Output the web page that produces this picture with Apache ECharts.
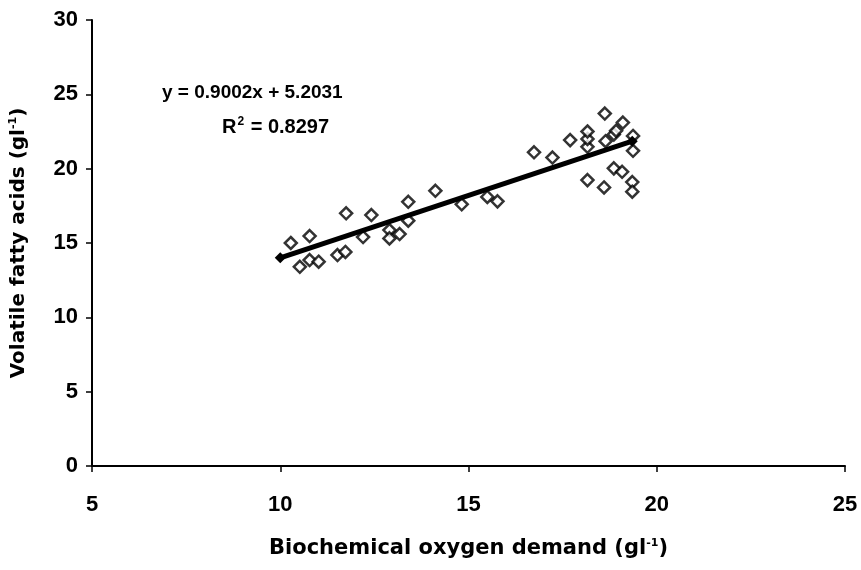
<!DOCTYPE html>
<html>
<head>
<meta charset="utf-8">
<script src="https://cdn.jsdelivr.net/npm/echarts@6/dist/echarts.min.js"></script>
<style>
  html, body { margin: 0; padding: 0; background: #fff; }
  #main { width: 861px; height: 570px; }
</style>
</head>
<body>
<div id="main"></div>
<script>
var myChart = echarts.init(document.getElementById('main'));

// BOD (x) vs VFA (y)
let bod = [10.28, 10.52, 10.78, 10.78, 11.02, 11.52, 11.73, 11.75, 12.2, 12.42, 12.9, 12.9, 13.17, 13.4, 13.4,
    14.12, 14.82, 15.5, 15.77, 16.74, 17.23, 17.7, 18.16, 18.16, 18.16, 18.16, 18.6, 18.62, 18.64, 18.86,
    18.86, 18.92, 19.1, 19.08, 19.37, 19.37, 19.35, 19.35]
let vfa = [15.0, 13.4, 15.47, 13.85, 13.74, 14.19, 14.4, 17.0, 15.4, 16.88, 15.87, 15.31, 15.6, 17.77, 16.5,
    18.51, 17.6, 18.1, 17.8, 21.1, 20.75, 21.92, 19.23, 21.47, 22.0, 22.5, 18.74, 23.71, 21.85, 20.02,
    22.3, 22.55, 23.1, 19.79, 22.2, 21.2, 19.1, 18.45]
// ends of the drawn trend line
let trendX = [10.0, 19.35]
let trendY = [14.0, 21.85]
let xTicks = [5, 10, 15, 20, 25]
let yTicks = [0, 5, 10, 15, 20, 25, 30]

let points = bod.map((x, i) => [x, vfa[i]])
let trend = trendX.map((x, i) => [x, trendY[i]])

let font = 'Liberation Sans'
let nameFont = 'DejaVu Sans' // wider, closer to the scanned titles

function nameRich(size) {
    return {
        t: { fontFamily: nameFont, fontSize: size, color: '#000', fontWeight: 'bold' },
        s: { fontFamily: nameFont, fontSize: 11, color: '#000', fontWeight: 'bold', padding: [0, 0, 11, 0] }
    }
}

var option = {
    animation: false,
    backgroundColor: '#fff',
    grid: { left: 92, right: 16, top: 20, bottom: 104, containLabel: false, outerBoundsMode: 'none' },
    xAxis: {
        type: 'value',
        min: xTicks[0],
        max: xTicks[xTicks.length - 1],
        interval: 5,
        splitLine: { show: false },
        axisLine: { lineStyle: { color: '#000', width: 2 } },
        axisTick: { lineStyle: { color: '#000', width: 1.5 }, length: 6 },
        axisLabel: { color: '#000', fontFamily: font, fontWeight: 'bold', fontSize: 22, margin: 28 },
        name: '{t|Biochemical oxygen demand (gl}{s|-1}{t|)}',
        nameLocation: 'middle',
        nameGap: 72,
        nameTextStyle: { rich: nameRich(21) }
    },
    yAxis: {
        type: 'value',
        min: yTicks[0],
        max: yTicks[yTicks.length - 1],
        interval: 5,
        splitLine: { show: false },
        axisLine: { show: true, lineStyle: { color: '#000', width: 2 } },
        axisTick: { show: true, lineStyle: { color: '#000', width: 1.5 }, length: 6 },
        axisLabel: { color: '#000', fontFamily: font, fontWeight: 'bold', fontSize: 22, margin: 14 },
        name: '{t|Volatile fatty acids (gl}{s|-1}{t|)}',
        nameLocation: 'middle',
        nameGap: 62,
        nameTextStyle: { rich: nameRich(20) }
    },
    graphic: [
        {
            type: 'text', left: 162, top: 83,
            style: { text: 'y = 0.9002x + 5.2031', font: 'bold 19px "Liberation Sans"', fill: '#000' }
        },
        {
            type: 'text', left: 222, top: 116,
            style: {
                text: '{t|R}{s|2}{t| = 0.8297}',
                rich: {
                    t: { font: 'bold 20px "Liberation Sans"', fill: '#000' },
                    s: { font: 'bold 12px "Liberation Sans"', fill: '#000', padding: [0, 1, 10, 1] }
                }
            }
        }
    ],
    series: [
        {
            type: 'scatter',
            data: points,
            symbol: 'diamond',
            symbolSize: 12,
            itemStyle: { color: '#fff', borderColor: '#000', borderWidth: 2.5 }
        },
        {
            type: 'line',
            data: trend,
            symbol: 'diamond',
            symbolSize: 11,
            showSymbol: true,
            itemStyle: { color: '#000' },
            lineStyle: { color: '#000', width: 5 }
        }
    ]
};

myChart.setOption(option);
</script>
</body>
</html>
